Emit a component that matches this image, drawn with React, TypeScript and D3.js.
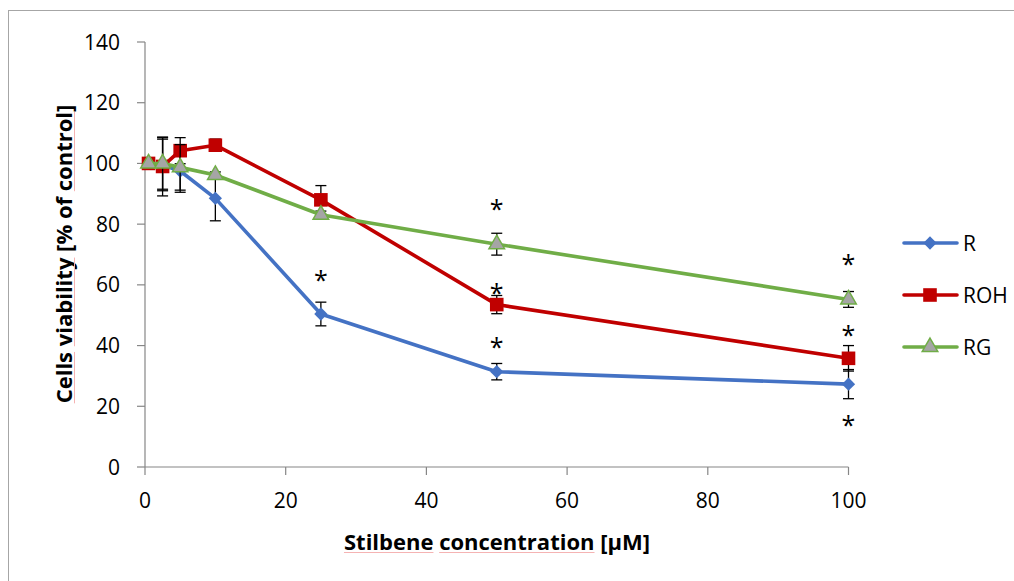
import React, { useLayoutEffect, useRef, useState } from "react";
import * as d3 from "d3";

// Stilbene concentrations (µM) and mean cell viability (% of control) with SD
const concentrations = [0.5, 2.5, 5, 10, 25, 50, 100];
const seriesNames = ["R", "ROH", "RG"];
const viabilityR = [100, 99.5, 97.5, 88.5, 50.4, 31.4, 27.3];
const viabilityROH = [100, 99, 104.2, 106, 88, 53.5, 35.8];
const viabilityRG = [100, 100, 98.7, 96.2, 83.1, 73.4, 55.2];
const errorR = [0, 8.5, 7, 7.4, 3.9, 2.7, 4.8];
const errorROH = [0, 9.7, 4.3, 2, 4.7, 3, 4.2];
const errorRG = [0, 8.5, 7.5, 1, 1.2, 3.6, 2.6];

const xTicks = [0, 20, 40, 60, 80, 100];
const yTicks = [0, 20, 40, 60, 80, 100, 120, 140];

// significance asterisks (x in µM, y in % of control)
const sigX = [25, 50, 50, 50, 100, 100, 100];
const sigY = [62.9, 86.4, 58.7, 40.9, 68.2, 44.9, 15];

const xTitle = "Stilbene concentration [µM]";
const yTitle = "Cells viability [% of control]";

const W = 1014;
const H = 581;
const FONT = "'Open Sans', 'Noto Sans', sans-serif";
const AXIS = "#868686";

const x = d3.scaleLinear().domain([0, 100]).range([145, 848.5]);
const y = d3.scaleLinear().domain([0, 140]).range([467, 42]);

type Series = {
  name: string;
  values: number[];
  errors: number[];
  color: string;
  marker: string;
  fill: string;
  stroke: string;
  rotate: number;
};

const squareSym = d3.symbol().type(d3.symbolSquare);
const triSym = d3.symbol().type(d3.symbolTriangle);

const series: Series[] = [
  {
    name: seriesNames[0],
    values: viabilityR,
    errors: errorR,
    color: "#4472C4",
    marker: squareSym.size(88)() as string,
    fill: "#4472C4",
    stroke: "none",
    rotate: 45,
  },
  {
    name: seriesNames[1],
    values: viabilityROH,
    errors: errorROH,
    color: "#C00000",
    marker: squareSym.size(185)() as string,
    fill: "#C00000",
    stroke: "none",
    rotate: 0,
  },
  {
    name: seriesNames[2],
    values: viabilityRG,
    errors: errorRG,
    color: "#70AD47",
    marker: triSym.size(105)() as string,
    fill: "#A5A5A5",
    stroke: "#70AD47",
    rotate: 0,
  },
];

const lineGen = d3
  .line<number>()
  .x((_, i) => x(concentrations[i]))
  .y((v) => y(v));

// Axis title with thin proofing-style underlines below selected words
function SpellTitle(props: {
  text: string;
  words: string[];
  tx: number;
  ty: number;
  rotate: number;
}) {
  const { text, words, tx, ty, rotate } = props;
  const ref = useRef<SVGTextElement>(null);
  const [segs, setSegs] = useState<{ a: number; b: number }[]>([]);
  useLayoutEffect(() => {
    const el = ref.current;
    if (!el) return;
    const total = el.getComputedTextLength();
    const start = -total / 2;
    const out = words.map((w) => {
      const i = text.indexOf(w);
      const off = i > 0 ? el.getSubStringLength(0, i) : 0;
      const len = el.getSubStringLength(i, w.length);
      return { a: start + off, b: start + off + len };
    });
    setSegs(out);
  }, [text]);
  return (
    <g transform={`translate(${tx},${ty}) rotate(${rotate})`}>
      <text
        ref={ref}
        x={0}
        y={0}
        textAnchor="middle"
        fontFamily={FONT}
        fontWeight="bold"
        fontSize={22}
        fill="#000"
      >
        {text}
      </text>
      {segs.map((s, i) => (
        <line
          key={i}
          x1={s.a}
          x2={s.b}
          y1={2.5}
          y2={2.5}
          stroke="#f5b3b3"
          strokeWidth={1}
        />
      ))}
    </g>
  );
}

export default function App() {
  return (
    <svg
      width={W}
      height={H}
      style={{ position: "absolute", left: 0, top: 0, display: "block", background: "#fff" }}
    >
      {/* chart area frame */}
      <rect x={8.5} y={10.5} width={W + 20} height={H + 20} fill="#fff" stroke="#a6a6a6" strokeWidth={1} />

      {/* y axis */}
      <line x1={x(0)} x2={x(0)} y1={y(140)} y2={y(0)} stroke={AXIS} strokeWidth={1.2} />
      {yTicks.map((t) => (
        <g key={`y${t}`}>
          <line x1={x(0) - 8} x2={x(0)} y1={y(t)} y2={y(t)} stroke={AXIS} strokeWidth={1.2} />
          <text
            x={120}
            y={y(t)}
            dy="0.36em"
            textAnchor="end"
            fontFamily={FONT}
            fontSize={21}
            fill="#000"
          >
            {t}
          </text>
        </g>
      ))}

      {/* x axis */}
      <line x1={x(0)} x2={x(100)} y1={y(0)} y2={y(0)} stroke={AXIS} strokeWidth={1.2} />
      {xTicks.map((t) => (
        <g key={`x${t}`}>
          <line x1={x(t)} x2={x(t)} y1={y(0)} y2={y(0) + 8} stroke={AXIS} strokeWidth={1.2} />
          <text
            x={x(t)}
            y={508}
            textAnchor="middle"
            fontFamily={FONT}
            fontSize={21}
            fill="#000"
          >
            {t}
          </text>
        </g>
      ))}

      {/* series: error bars, line, markers */}
      {series.map((s) => (
        <g key={s.name}>
          {s.values.map((v, i) =>
            s.errors[i] > 0 ? (
              <g key={i} stroke="#000" strokeWidth={1.3}>
                <line
                  x1={x(concentrations[i])}
                  x2={x(concentrations[i])}
                  y1={y(v + s.errors[i])}
                  y2={y(v - s.errors[i])}
                />
                <line
                  x1={x(concentrations[i]) - 5.5}
                  x2={x(concentrations[i]) + 5.5}
                  y1={y(v + s.errors[i])}
                  y2={y(v + s.errors[i])}
                />
                <line
                  x1={x(concentrations[i]) - 5.5}
                  x2={x(concentrations[i]) + 5.5}
                  y1={y(v - s.errors[i])}
                  y2={y(v - s.errors[i])}
                />
              </g>
            ) : null
          )}
          <path
            d={lineGen(s.values) as string}
            fill="none"
            stroke={s.color}
            strokeWidth={3.6}
            strokeLinejoin="round"
            strokeLinecap="round"
          />
          {s.values.map((v, i) => (
            <path
              key={`m${i}`}
              d={s.marker}
              transform={`translate(${x(concentrations[i])},${y(v)}) rotate(${s.rotate})`}
              fill={s.fill}
              stroke={s.stroke}
              strokeWidth={1.5}
            />
          ))}
        </g>
      ))}

      {/* significance marks */}
      {sigX.map((sx, i) => (
        <text
          key={`s${i}`}
          x={x(sx)}
          y={y(sigY[i]) + 13}
          textAnchor="middle"
          fontFamily={FONT}
          fontSize={25}
          fill="#000"
        >
          *
        </text>
      ))}

      {/* legend */}
      {series.map((s, i) => {
        const ly = 243 + i * 52;
        return (
          <g key={`l${s.name}`}>
            <line x1={904} x2={957} y1={ly} y2={ly} stroke={s.color} strokeWidth={3.6} strokeLinecap="round" />
            <path
              d={s.marker}
              transform={`translate(930,${ly}) rotate(${s.rotate})`}
              fill={s.fill}
              stroke={s.stroke}
              strokeWidth={1.5}
            />
            <text x={963} y={ly} dy="0.36em" fontFamily={FONT} fontSize={21} fill="#000">
              {s.name}
            </text>
          </g>
        );
      })}

      {/* axis titles */}
      <SpellTitle text={xTitle} words={["Stilbene", "concentration"]} tx={497} ty={550} rotate={0} />
      <SpellTitle text={yTitle} words={["Cells", "viability", "control"]} tx={72} ty={254} rotate={-90} />
    </svg>
  );
}
